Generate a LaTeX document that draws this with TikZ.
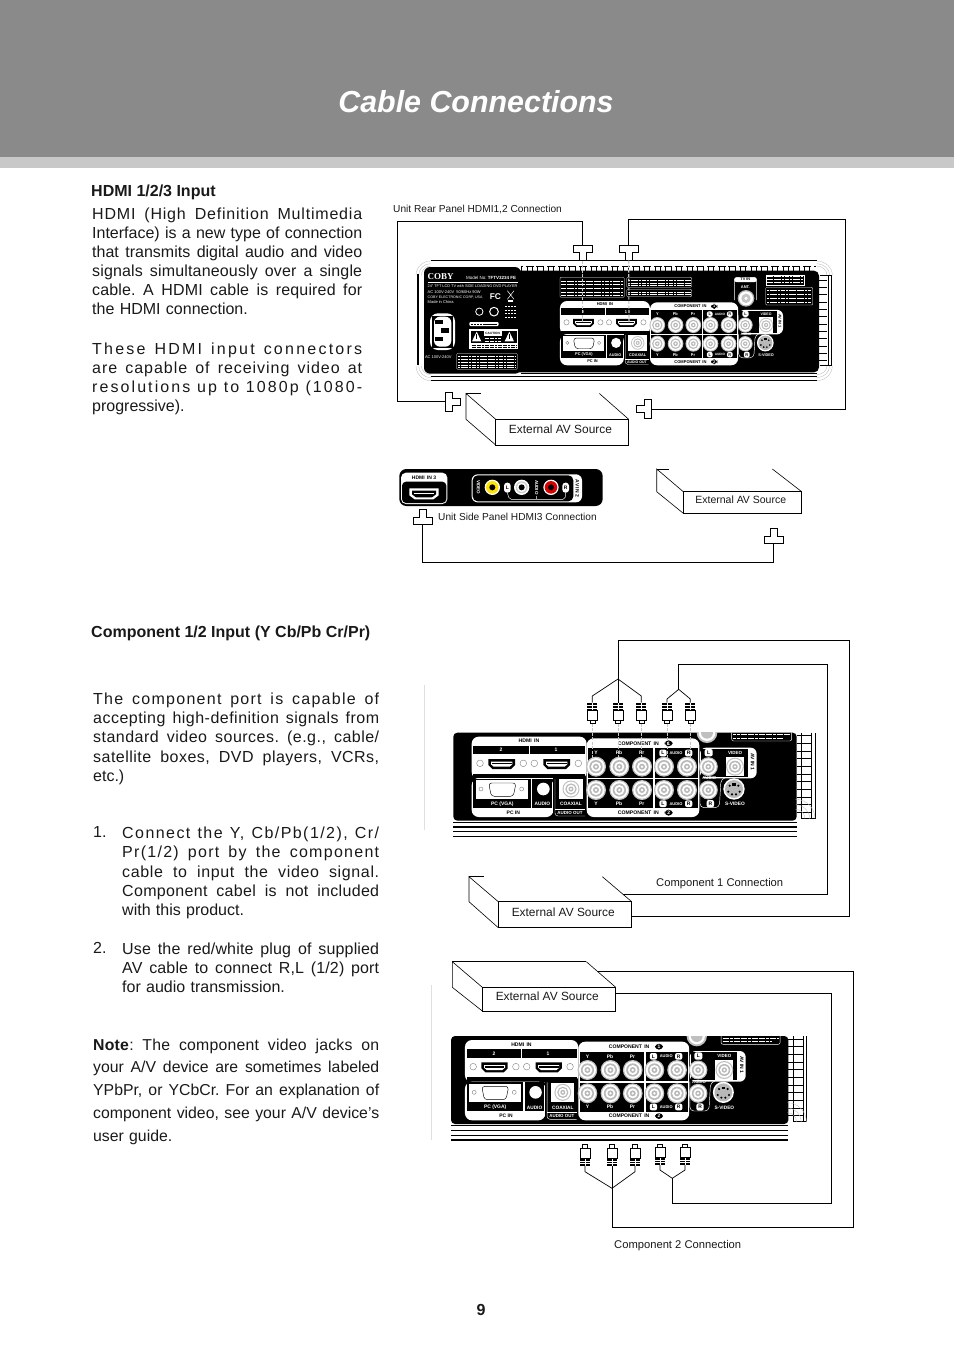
\documentclass[tikz,border=0pt]{standalone}
\usepackage{fontspec}
\setmainfont{Liberation Sans}
\newfontfamily\srf{Liberation Serif}
\newcounter{lblc}
\definecolor{headgray}{RGB}{138,138,138}
\definecolor{stripgray}{RGB}{200,200,200}
\tikzset{
  wire/.style={black,line width=0.7pt},
  boxline/.style={black,line width=0.6pt},
  pinline/.style={gray!45,line width=1.1pt,dash pattern=on 3pt off 1.5pt},
  para/.style={anchor=north west,inner sep=0pt,align=left,text=black!90},
  lab/.style={anchor=center,inner sep=0pt,text=black!90},
  micro/.style={inner sep=0pt,transform shape,text=white,anchor=center},
}
% small label: [opts]{pos}{size}{text}
\newcommand\lbl[4][]{\stepcounter{lblc}\node[micro,font=\fontsize{#3}{#3}\selectfont,#1] (m\arabic{lblc}) at (#2) {#4};}
\def\JW{270pt}
\newcommand\Jl[2][0]{\leavevmode\hbox to \JW{\addfontfeature{LetterSpace=#1}\spaceskip=.24em plus 1fil\relax #2}}
% RCA socket
\newcommand\sock[2][1]{\begin{scope}[shift={(#2)},scale=#1]
 \fill[gray!50] (0,0) circle[radius=30];\fill[white] (0,0) circle[radius=26];
 \fill[gray!55] (0,0) circle[radius=20];\fill[white] (0,0) circle[radius=15];
 \fill[gray!55] (0,0) circle[radius=9];\fill[white] (0,0) circle[radius=4];\end{scope}}
% hdmi socket
\newcommand\hdmisock[1]{\begin{scope}[shift={(#1)}]
 \fill[black] (-40,-14)--(40,-14)--(40,4)--(28,16)--(-28,16)--(-40,4)--cycle;
 \fill[white] (-32,-6)--(32,-6)--(32,2)--(24,9)--(-24,9)--(-32,2)--cycle;
 \fill[black] (-30,-3) rectangle (30,2);\end{scope}}
\newcommand\noteblk[5]{\draw[white,line width=0.3pt,rounded corners=1pt] (#1,#2) rectangle (#3,#4);
 \foreach \yy in {#5}{\draw[white,line width=0.55pt,dash pattern=on 2.2pt off .5pt] (#1+4,\yy)--(#3-4,\yy);}}
% central connector block, coordinates of a 3x crop
\newcommand\rearblock{%
 % HDMI group
 \fill[white,rounded corners=7pt] (95,305) rectangle (440,432);
 \fill[black] (100,332) rectangle (435,358);
 \fill[white] (266,332) rectangle (270,358);
 \fill[black] (100,416) rectangle (435,430);
 \lbl[text=black]{267,318}{15.5}{\bfseries HDMI\, IN}
 \lbl{183,345}{15}{\bfseries 2}\lbl{348,345}{15}{\bfseries 1}
 \foreach \cx in {120,250,283,415}{\draw[gray,line width=.4pt] (\cx,385) circle[radius=10];}
 \hdmisock{185,386}\hdmisock{350,386}
 % PC group
 \fill[white,rounded corners=7pt] (95,430) rectangle (340,546);
 \fill[black] (100,432) rectangle (272,518);\fill[black] (277,432) rectangle (337,518);
 \fill[white] (108,436) rectangle (265,492);
 \draw[black,line width=.45pt,rounded corners=3pt] (146,444)--(228,444)--(220,484)--(154,484)--cycle;
 \foreach \cx in {123,245}{\draw[gray,line width=.4pt] (\cx,462) circle[radius=6];}
 \fill[white] (310,462) circle[radius=19];
 \lbl{187,507}{15}{\bfseries PC (VGA)}\lbl{307,507}{14.5}{\bfseries AUDIO}
 \lbl[text=black]{220,532}{15}{\bfseries PC IN}
 % coaxial
 \fill[black] (340,430) rectangle (440,546);
 \draw[white,line width=.4pt,rounded corners=3pt] (345,432)--(345,543)--(435,543);
 \fill[white] (357,433) rectangle (428,492);
 \sock[.85]{393,462}
 \draw[white,line width=.4pt] (345,522)--(435,522);
 \lbl{393,507}{14.5}{\bfseries COAXIAL}\lbl{390,534}{13.5}{\bfseries AUDIO OUT}
 % component group
 \fill[white,rounded corners=7pt] (440,310) rectangle (778,546);
 \fill[black] (445,340) rectangle (640,428);\fill[black] (645,340) rectangle (775,428);
 \fill[black] (445,433) rectangle (640,520);\fill[black] (645,433) rectangle (775,520);
 \foreach \cx in {468,538,606,672,741}{\sock{\cx,395}\sock{\cx,465}}
 \foreach \yy in {354,506}{
  \lbl{468,\yy}{15}{\bfseries Y}\lbl{537,\yy}{15}{\bfseries Pb}\lbl{605,\yy}{15}{\bfseries Pr}
  \fill[white,rounded corners=2pt] (658,\yy-10) rectangle (680,\yy+10);\fill[white,rounded corners=2pt] (735,\yy-10) rectangle (757,\yy+10);
  \lbl[text=black]{669,\yy}{15}{\bfseries L}\lbl[text=black]{746,\yy}{15}{\bfseries R}\lbl{708,\yy}{12}{\bfseries AUDIO}}
 \lbl[text=black]{595,325}{15.5}{\bfseries COMPONENT\, IN}
 \lbl[text=black]{595,533}{15.5}{\bfseries COMPONENT\, IN}
 \fill[black,rounded corners=4pt] (674,316) rectangle (698,334);\fill[black,rounded corners=4pt] (674,524) rectangle (698,542);
 \lbl{686,325}{15}{\bfseries 1}\lbl{686,533}{15}{\bfseries 2}
 % AV IN 1
 \fill[white,rounded corners=6pt] (780,338) rectangle (950,430);
 \fill[black] (783,341) rectangle (925,426);
 \draw[white,line width=.45pt,rounded corners=4pt] (780,430)--(780,518)--(838,518)--(843,432)--(856,428);
 \sock[.95]{805,395}\sock[.95]{805,465}
 \fill[white] (858,366) rectangle (912,424);\sock[.9]{885,395}
 \fill[white] (882,462) circle[radius=32];\fill[black!28] (882,462) circle[radius=27];
 \foreach \dx/\dy in {-13/-10,13/-10,-17/8,17/8,-6/16,6/16}{\fill[black] (882+\dx,462+\dy) circle[radius=3.5];}
 \fill[black] (877,445) rectangle (887,452);
 \fill[white,rounded corners=2pt] (794,342) rectangle (818,364);\lbl[text=black]{806,353}{15}{\bfseries L}
 \fill[white,rounded corners=2pt] (800,495) rectangle (822,517);\lbl[text=black]{811,506}{15}{\bfseries R}
 \lbl{885,354}{13.5}{\bfseries VIDEO}\lbl{808,430}{13}{\bfseries AUDIO}\lbl{885,507}{14.5}{\bfseries S-VIDEO}
 \lbl[text=black,rotate=-90]{938,380}{15}{\bfseries AV IN 1}
}
% cropped panel around the block: left edge, right edge of black, coordinates as the block
\newcommand\croppanel[2]{%
 \fill[black,rounded corners=4pt] (#1,293) rectangle (#2,557);
 \foreach \yy/\ww in {561/.5,576/1.1,590/.5,605/1.1}{\draw[black,line width=\ww pt] (#1,\yy)--(#2,\yy);}
 \draw[black,line width=.7pt] (#2+15,293)--(#2+15,550)--(#2+55,550)--(#2+55,293);
 \draw[black,line width=.7pt] (#2+45,293)--(#2+45,550);
 \foreach \yy in {302,325,...,540}{\draw[black,line width=.8pt] (#2,\yy)--(#2+45,\yy);}
 \foreach \ro in {58,42,28}{\draw[gray!50,line width=.35pt] (#2+\ro-3,551) arc[start angle=0,end angle=-90,radius=\ro];}
 \begin{scope}
 \clip (#1,293) rectangle (#2+60,610);
 \fill[gray!50] (801,293) circle[radius=31];\fill[white] (801,293) circle[radius=25];\fill[gray!50] (801,293) circle[radius=18];
 \end{scope}
 \draw[white,line width=.4pt,rounded corners=2pt] (875,293)--(875,318)--(1055,318)--(1055,293);
 \draw[white,line width=.7pt,dash pattern=on 3pt off .6pt] (880,299)--(1050,299) (880,310)--(1030,310);
}
% plug shapes
\newcommand\hplug[3]{\coordinate (#1) at (#2);\begin{scope}[shift={(#1)},rotate=#3]
 \draw[boxline,fill=white] (-9.5,0)--(9.5,0)--(9.5,7)--(3.5,7)--(3.5,15)--(-3.5,15)--(-3.5,7)--(-9.5,7)--cycle;\end{scope}}
\newcommand\rca[3]{\coordinate (#1) at (#2);\begin{scope}[shift={(#1)},rotate=#3]
 \fill[black] (-5,0) rectangle (5,7.5);
 \draw[white,line width=.25pt] (-5,2.5)--(5,2.5) (-5,5)--(5,5) (0,0)--(0,7.5);
 \draw[boxline,fill=white] (-5,7.5) rectangle (5,17.5);
 \draw[boxline,fill=white] (-2.5,17.5) rectangle (2.5,21);\end{scope}}
% source box: name, front x1,y1,x2,y2, back x,y, fontsize
\newcommand\srcbox[8]{%
 \node[draw=black,line width=.6pt,inner sep=0pt,minimum width=#4pt-#2pt,minimum height=#5pt-#3pt,font=\fontsize{#8}{#8}\selectfont,text=black!90] (#1) at ({(#2+#4)/2},{(#3+#5)/2}) {\hspace*{-3.5pt}\raisebox{5.5pt}{External AV Source}};
 \draw[boxline] (#6,#3)--(#6,#7)--(#2,#3) (#6,#3)--(#2,#5);
 \draw[boxline] (#4-88/3,#7)--(#4,#3);}
\begin{document}
\frenchspacing
\begin{tikzpicture}[x=1pt,y=-1pt]
\useasboundingbox (0,0) rectangle (954,1350);
% header
\fill[headgray] (0,0) rectangle (954,157);
\fill[stripgray] (0,157) rectangle (954,168);
\node[inner sep=0pt,text=white,font=\fontsize{30.4}{31}\selectfont\bfseries\itshape] (title) at (476,102) {Cable Connections};
% left text
\node[lab,anchor=west,font=\fontsize{16}{19}\selectfont\bfseries] (h1) at (91,192) {HDMI 1/2/3 Input};
\gdef\JW{270pt}
\node[para,text width=270pt,font=\fontsize{16}{19.1}\selectfont] (p1) at (92,207.5) {
\Jl[5]{HDMI (High Definition Multimedia}\\
\Jl{Interface) is a new type of connection}\\
\Jl{that transmits digital audio and video}\\
\Jl[1]{signals simultaneously over a single}\\
\Jl[1]{cable. A HDMI cable is required for}\\
the HDMI connection.};
\node[para,text width=270pt,font=\fontsize{16}{19.1}\selectfont] (p2) at (92,342.5) {
\Jl[14]{These HDMI input connectors}\\
\Jl[6]{are capable of receiving video at}\\
\Jl[13]{resolutions up to 1080p (1080-}\\
progressive).};
\node[lab,anchor=west,font=\fontsize{16}{19}\selectfont\bfseries] (h2) at (91,633) {Component 1/2 Input (Y Cb/Pb Cr/Pr)};
\gdef\JW{286pt}
\node[para,text width=286pt,font=\fontsize{16}{19.25}\selectfont] (p3) at (93,692.5) {
\Jl[8]{The component port is capable of}\\
\Jl[3]{accepting high-definition signals from}\\
\Jl[3]{standard video sources. (e.g., cable/}\\
\Jl[3]{satellite boxes, DVD players, VCRs,}\\
etc.)};
\node[lab,anchor=west,font=\fontsize{16}{19}\selectfont] (n1) at (93,832) {1.};
\gdef\JW{257pt}
\node[para,text width=257pt,font=\fontsize{16}{19.4}\selectfont] (p4) at (122,826.5) {
\Jl[9]{Connect the Y, Cb/Pb(1/2), Cr/}\\
\Jl[8]{Pr(1/2) port by the component}\\
\Jl[4]{cable to input the video signal.}\\
\Jl[2]{Component cabel is not included}\\
with this product.};
\node[lab,anchor=west,font=\fontsize{16}{19}\selectfont] (n2) at (93,948) {2.};
\node[para,text width=257pt,font=\fontsize{16}{19.2}\selectfont] (p5) at (122,942.5) {
\Jl[1]{Use the red/white plug of supplied}\\
\Jl[1]{AV cable to connect R,L (1/2) port}\\
for audio transmission.};
\gdef\JW{286pt}
\node[para,text width=286pt,font=\fontsize{15.8}{22.75}\selectfont] (p6) at (93,1038.5) {
\Jl[1.5]{\textbf{Note}: The component video jacks on}\\
\Jl{your A/V device are sometimes labeled}\\
\Jl{YPbPr, or YCbCr. For an explanation of}\\
\Jl{component video, see your A/V device’s}\\
user guide.};
\node[lab,font=\fontsize{16}{19}\selectfont\bfseries] (pg) at (481,1310) {9};
% small captions
\node[lab,anchor=west,font=\fontsize{10.15}{11}\selectfont] (c1) at (393,209) {Unit Rear Panel HDMI1,2 Connection};
\node[lab,anchor=west,font=\fontsize{10.15}{11}\selectfont] (c2) at (438,517) {Unit Side Panel HDMI3 Connection};
\node[lab,anchor=west,font=\fontsize{11.2}{12}\selectfont] (c3) at (656,883.5) {Component 1 Connection};
\node[lab,anchor=west,font=\fontsize{11.2}{12}\selectfont] (c4) at (614,1245.5) {Component 2 Connection};
% faint rules
\draw[gray!25,line width=.3pt] (424.5,685)--(424.5,830);
\draw[gray!25,line width=.3pt] (431.5,985)--(431.5,1140);
%% ---- rear panel, full
\begin{scope}[shift={(390,200)},scale=1/3,transform shape]
 \draw[gray!55,line width=.35pt] (122,183) to[out=180,in=90] (78,226) (122,191) to[out=180,in=90] (86,226) (122,198) to[out=180,in=90] (94,226);
 \draw[gray!55,line width=.35pt] (1280,183) to[out=0,in=90] (1327,226) (1280,191) to[out=0,in=90] (1319,226) (1280,198) to[out=0,in=90] (1311,226);
 \draw[gray!55,line width=.35pt] (122,542) to[out=180,in=-90] (78,497) (122,533) to[out=180,in=-90] (86,497) (122,524) to[out=180,in=-90] (94,497);
 \draw[gray!55,line width=.35pt] (1280,542) to[out=0,in=-90] (1327,497) (1280,533) to[out=0,in=-90] (1319,497) (1280,524) to[out=0,in=-90] (1311,497);
 \draw[black,line width=.8pt] (122,182)--(1280,182);
 \draw[black,line width=.6pt] (395,198)--(1278,198);
 \foreach \xx in {395,411,...,1270}{\draw[black,line width=.7pt] (\xx,198)--(\xx,212);}
 \foreach \xx in {403,435,...,1270}{\fill[white] (\xx-4,196) rectangle (\xx+4,200);}
 \fill[black,rounded corners=5pt] (102,212) rectangle (1287,517);
 \fill[black,rounded corners=6pt] (102,201) rectangle (393,521);
 \draw[black,line width=.5pt] (393,520)--(1280,520);
 \draw[black,line width=.9pt] (122,530)--(1280,530);
 \draw[black,line width=.9pt] (122,542)--(1280,542);
 \draw[black,line width=.7pt] (81,222)--(81,495) (85,222)--(85,495);
 \draw[black,line width=.8pt] (1325,226)--(1325,496)--(1290,496) (1316,226)--(1316,496) (1290,226)--(1325,226);
 \foreach \yy in {240,262,...,490}{\draw[black,line width=.7pt] (1287,\yy)--(1310,\yy);}
 % label
 \lbl{152,229}{27}{\srf\bfseries COBY}
 \lbl[anchor=west]{228,233}{13.5}{Model No: \textbf{TFTV3234 FE}}
 \draw[white,line width=.3pt] (113,247)--(385,247);
 \lbl[anchor=west]{113,259}{11.5}{24" TFT LCD TV with SIDE LOADING DVD PLAYER}
 \lbl[anchor=west]{113,276}{12}{AC 100V-240V\ \ 50/60Hz 90W}
 \lbl[anchor=west]{113,291}{10.8}{COBY ELECTRONIC CORP, USA}
 \lbl[anchor=west]{113,305}{12}{Made in China}
 \lbl{316,289}{25}{\bfseries FC}
 \draw[white,line width=.5pt] (352,272)--(372,298) (372,272)--(352,298);
 \fill[white] (354,300) rectangle (370,305);
 \draw[white,line width=.8pt] (268,335) circle[radius=11];
 \draw[white,line width=1pt] (312,335) circle[radius=13];
 \draw[white,line width=.5pt,dash pattern=on 2pt off 1pt] (345,318)--(378,318) (345,330)--(378,330) (345,340)--(378,340) (345,352)--(378,352);
 \fill[white,rounded corners=1pt] (238,366) rectangle (326,378);
 \draw[black,line width=.5pt,dash pattern=on 2.5pt off .6pt] (242,372)--(322,372);
 % power socket
 \fill[white,rounded corners=8pt] (120,340) rectangle (195,450);
 \fill[black] (126,347) rectangle (189,443);\fill[white,rounded corners=6pt] (132,350)--(184,350)--(184,440)--(132,440)--cycle;
 \fill[black] (136,360) rectangle (160,372);\fill[black] (136,410) rectangle (160,422);\fill[black] (152,384) rectangle (176,398);
 \lbl[anchor=west]{105,470}{12}{AC 100V-240V}
 % caution
 \fill[white] (237,388) rectangle (385,448);\fill[black] (242,393) rectangle (380,430);
 \fill[white] (246,424)--(260,395)--(274,424)--cycle;\fill[white] (344,424)--(358,395)--(372,424)--cycle;
 \fill[black] (258,402) rectangle (262,416);\fill[black] (356,402) rectangle (360,416);
 \fill[white] (282,394) rectangle (335,408);
 \lbl[text=black]{308,401}{9.5}{\bfseries CAUTION}
 \draw[white,line width=.5pt,dash pattern=on 2pt off .6pt] (284,415)--(333,415) (284,423)--(333,423);
 \draw[black,line width=.5pt,dash pattern=on 2pt off .6pt] (245,436)--(378,436) (245,443)--(378,443);
 % note blocks
 \noteblk{200}{460}{382}{508}{469,478,487,496,503}
 \noteblk{510}{232}{703}{292}{243,254,265,276,285}
 \noteblk{710}{232}{905}{262}{241,250,256}
 \noteblk{710}{268}{905}{290}{277,284}
 \noteblk{1127}{262}{1268}{315}{272,284,296,307}
 \draw[white,line width=.55pt,dash pattern=on 2.2pt off .5pt] (1127,229)--(1240,229) (1127,238)--(1240,238) (1127,247)--(1240,247);
 \draw[white,line width=.3pt] (1127,224) rectangle (1242,254);
 % antenna
 \draw[white,line width=.4pt,rounded corners=3pt] (1033,300)--(1033,232)--(1100,232)--(1100,300);
 \fill[white,rounded corners=2pt] (1033,232) rectangle (1100,246);
 \lbl[text=black]{1066,239}{11.5}{\bfseries TV IN}
 \lbl{1066,262}{12}{\bfseries ANT.}
 \fill[gray!60] (1068,295) circle[radius=25];\fill[white] (1068,295) circle[radius=21];\fill[gray!45] (1068,295) circle[radius=14];\fill[white] (1068,295) circle[radius=5];
\end{scope}
\begin{scope}[shift={(535.2,219.67)},xscale=.2609,yscale=.2667,transform shape]
 \rearblock
\end{scope}
\coordinate (pinA) at (582.7,322);\coordinate (pinB) at (629,322);
\hplug{rp1}{582.7,245.7}{0}\hplug{rp3}{628.7,245.7}{0}
\hplug{rp2}{445,401.8}{90}\hplug{rp4}{651.7,409}{-90}
\draw[pinline] (rp1)++(0,15)--(pinA);\draw[pinline] (rp3)++(0,15)--(pinB);
\coordinate (w1) at (397.3,221.7);\coordinate (w2) at (845.3,219);
\draw[wire] (rp1) |- (w1) |- (rp2);
\draw[wire] (rp3) |- (w2) |- (rp4);
\srcbox{src1}{495.7}{419.3}{628.7}{445}{466}{393.5}{11.9}
\draw[boxline] (466,393.5)--(481,393.5);
%% ---- side panel
\begin{scope}[shift={(390,460)},scale=1/3,transform shape]
 \fill[black,rounded corners=7pt] (28,27) rectangle (638,138);
 \fill[white,rounded corners=5pt] (33,38) rectangle (172,132);
 \fill[black,rounded corners=4pt] (36,65) rectangle (169,129);
 \lbl[text=black]{102,52}{15}{\bfseries HDMI\, IN 3}
 \fill[white] (58,85)--(146,85)--(146,106)--(130,118)--(74,118)--(58,106)--cycle;
 \fill[black] (66,92)--(138,92)--(138,103)--(126,112)--(78,112)--(66,103)--cycle;
 \fill[white] (72,98) rectangle (132,102);
 \fill[white,rounded corners=6pt] (245,43) rectangle (576,127);
 \fill[black,rounded corners=5pt] (248,46) rectangle (550,124);
 \lbl[rotate=-90]{265,82}{13.5}{\bfseries VIDEO}\lbl[rotate=-90]{440,82}{13.5}{\bfseries AUDIO}
 \lbl[text=black,rotate=-90]{562,85}{15}{\bfseries AV IN 2}
 \fill[white] (307,82) circle[radius=23];\fill[yellow!85!orange] (307,82) circle[radius=19];\fill[black] (307,82) circle[radius=9];
 \fill[white] (395,82) circle[radius=23];\fill[gray!40] (395,82) circle[radius=18];\fill[white] (395,82) circle[radius=14];\fill[black] (395,82) circle[radius=9];
 \fill[white] (483,82) circle[radius=23];\fill[red!85!black] (483,82) circle[radius=19];\fill[black] (483,82) circle[radius=9];
 \fill[white,rounded corners=3pt] (342,68) rectangle (362,98);\lbl[text=black]{352,83}{15}{\bfseries L}
 \fill[white,rounded corners=3pt] (517,68) rectangle (537,98);\lbl[text=black]{527,83}{15}{\bfseries R}
 \draw[white,line width=.45pt,rounded corners=2pt] (352,98)--(358,118)--(525,118)--(527,98) (440,108)--(440,118);
\end{scope}
\hplug{sp1}{422.3,524.5}{180}\hplug{sp2}{773.3,543.5}{180}
\coordinate (w3) at (422.3,562);
\draw[wire] (sp1) |- (w3) -| (sp2);
\srcbox{src2}{683.3}{491.7}{801.7}{513.3}{656.7}{469}{10.5}
\draw[boxline] (656.7,469)--(669.3,469);
%% ---- component 1
\begin{scope}[shift={(440,635)},scale=1/3,transform shape]
 \croppanel{40}{1070}
 \rearblock
\end{scope}
\rca{a1}{592.3,702.7}{0}\rca{a2}{618,702.7}{0}\rca{a3}{641.3,702.7}{0}\rca{a4}{667,702.7}{0}\rca{a5}{690.3,702.7}{0}
\foreach \pn in {a1,a2,a3,a4,a5}{\draw[pinline,line width=.8pt] (\pn)++(0,21)--++(0,36);}
\coordinate (j1) at (618,679);\coordinate (j2) at (678.7,689.3);
\coordinate (t1) at (849.3,640.5);\coordinate (t2) at (827.3,664.3);
\coordinate (s1) at (631.7,916);\coordinate (s2) at (622.7,894);
\draw[wire] (j1) |- (t1) |- (s1);
\draw[wire] (j2) |- (t2) |- (s2);
\draw[wire] (j1)--(a2);
\draw[wire] (a1)--++(0,-6.7)--(j1)--(641.3,696)--(a3);
\draw[wire] (a4)--++(0,-3.7)--(j2)--(690.3,699)--(a5);
\srcbox{src3}{498.3}{901.7}{631.7}{927.7}{469}{876.7}{11.9}
\draw[boxline] (469,876.7)--(483.7,876.7);
%% ---- component 2
\begin{scope}[shift={(433.8,938.33)},xscale=.3283,yscale=1/3,transform shape]
 \croppanel{52.4}{1080}
 \rearblock
\end{scope}
\rca{b1}{585,1165.7}{180}\rca{b2}{612,1165.7}{180}\rca{b3}{635,1165.7}{180}\rca{b4}{660,1165}{180}\rca{b5}{685,1165}{180}
\coordinate (j3) at (612,1188.3);\coordinate (j4) at (672.3,1178.3);
\coordinate (t3) at (853.3,1227.3);\coordinate (t4) at (831,1203.3);
\coordinate (s3) at (598,971.7);\coordinate (s4) at (615.7,993.3);
\draw[wire] (j3) |- (t3) |- (s3);
\draw[wire] (j4) |- (t4) |- (s4);
\draw[wire] (j3)--(b2);
\draw[wire] (b1)--++(0,6)--(j3)--(635,1171.7)--(b3);
\draw[wire] (b4)--++(0,5)--(j4)--(685,1170)--(b5);
\srcbox{src4}{482.3}{987.3}{615.7}{1011}{452.3}{961.7}{11.9}
\draw[boxline] (452.3,961.7)--(586,961.7);
\end{tikzpicture}
\end{document}
